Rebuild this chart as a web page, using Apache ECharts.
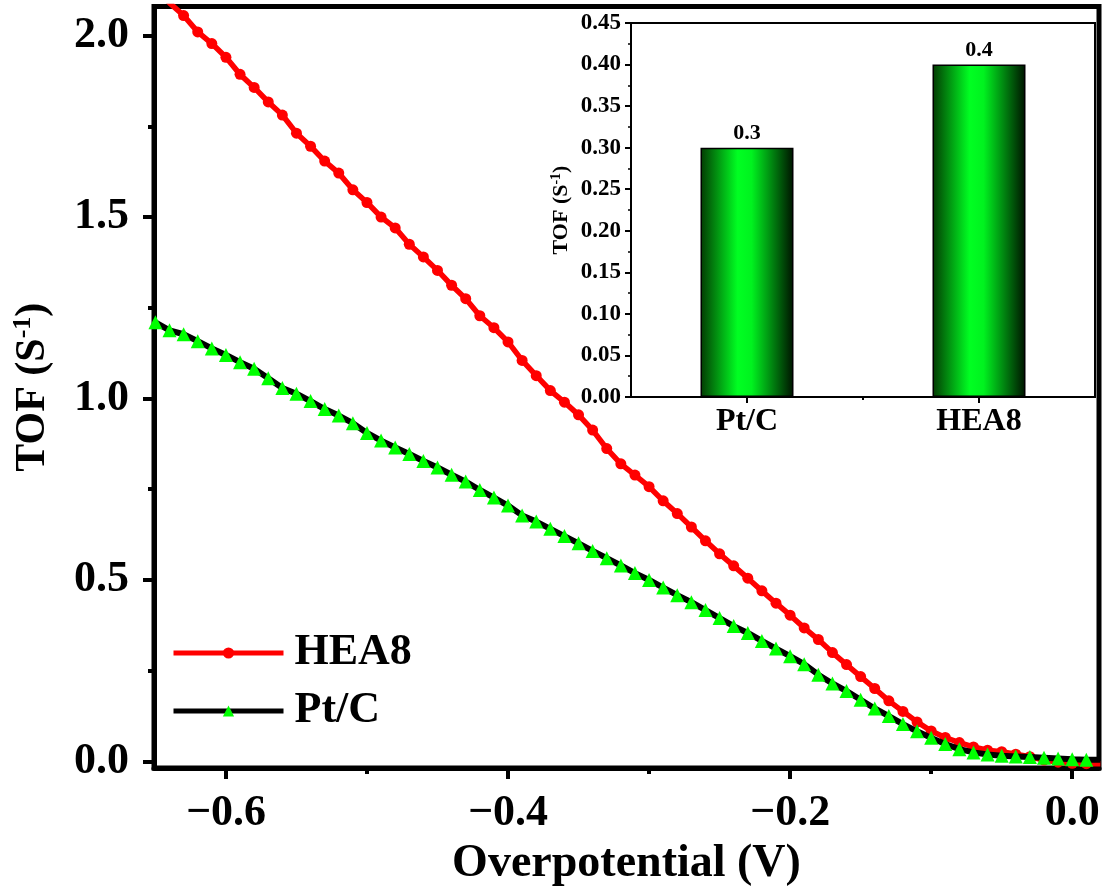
<!DOCTYPE html>
<html>
<head>
<meta charset="utf-8">
<title>TOF vs Overpotential</title>
<script src="https://cdn.jsdelivr.net/npm/echarts@6/dist/echarts.min.js"></script>
<style>
  html, body { margin: 0; padding: 0; background: #fff; }
  #chart { width: 1104px; height: 893px; }
</style>
</head>
<body>
<div id="chart"></div>
<script>
// Overpotential sweep (V)
const voltage = [
  -0.65, -0.64, -0.63, -0.62, -0.61, -0.60, -0.59, -0.58, -0.57, -0.56,
  -0.55, -0.54, -0.53, -0.52, -0.51, -0.50, -0.49, -0.48, -0.47, -0.46,
  -0.45, -0.44, -0.43, -0.42, -0.41, -0.40, -0.39, -0.38, -0.37, -0.36,
  -0.35, -0.34, -0.33, -0.32, -0.31, -0.30, -0.29, -0.28, -0.27, -0.26,
  -0.25, -0.24, -0.23, -0.22, -0.21, -0.20, -0.19, -0.18, -0.17, -0.16,
  -0.15, -0.14, -0.13, -0.12, -0.11, -0.10, -0.09, -0.08, -0.07, -0.06,
  -0.05, -0.04, -0.03, -0.02, -0.01, 0.00, 0.01, 0.02
];

// TOF (s^-1) of HEA8
const tofHEA8 = [
  2.13, 2.09, 2.055, 2.01, 1.978, 1.94, 1.893, 1.857, 1.817, 1.781,
  1.731, 1.695, 1.654, 1.621, 1.575, 1.54, 1.50, 1.47, 1.425, 1.39,
  1.353, 1.312, 1.275, 1.228, 1.195, 1.156, 1.105, 1.063, 1.022, 0.99,
  0.955, 0.913, 0.862, 0.82, 0.789, 0.757, 0.718, 0.683, 0.646, 0.608,
  0.572, 0.539, 0.505, 0.47, 0.436, 0.403, 0.368, 0.336, 0.30, 0.267,
  0.234, 0.201, 0.167, 0.138, 0.109, 0.084, 0.066, 0.052, 0.04, 0.031,
  0.027, 0.02, 0.013, 0.004, -0.002, -0.005, -0.006, -0.006
];

// TOF (s^-1) of Pt/C
const tofPtC = [
  1.21, 1.188, 1.177, 1.158, 1.138, 1.12, 1.10, 1.082, 1.056, 1.029,
  1.013, 0.993, 0.971, 0.953, 0.932, 0.905, 0.884, 0.865, 0.847, 0.828,
  0.81, 0.79, 0.771, 0.748, 0.727, 0.705, 0.678, 0.661, 0.641, 0.621,
  0.601, 0.58, 0.56, 0.54, 0.519, 0.50, 0.479, 0.458, 0.439, 0.417,
  0.395, 0.373, 0.354, 0.332, 0.311, 0.29, 0.268, 0.239, 0.215, 0.194,
  0.17, 0.146, 0.125, 0.103, 0.083, 0.065, 0.048, 0.034, 0.025, 0.019,
  0.016, 0.014, 0.012, 0.01, 0.008, 0.006, 0.005, 0.005
];

// Inset: TOF at a fixed overpotential
const insetCategories = ['Pt/C', 'HEA8'];
const insetTOF = [0.3, 0.4];

// Axis ticks
const xMajorTicks = [-0.6, -0.4, -0.2, 0.0];
const xMinorTicks = [-0.5, -0.3, -0.1];
const yMajorTicks = [0.0, 0.5, 1.0, 1.5, 2.0];
const yMinorTicks = [0.25, 0.75, 1.25, 1.75];

const FONT = '"Liberation Serif", "Times New Roman", serif';
const BLACK = '#000';

const chart = echarts.init(document.getElementById('chart'), null, { renderer: 'canvas' });

const signed = v => (v < 0 ? '\u2212' : '') + Math.abs(v).toFixed(1);

const barGradient = {
  type: 'linear', x: 0, y: 0, x2: 1, y2: 0,
  colorStops: [
    { offset: 0, color: '#033a03' },
    { offset: 0.4, color: '#00ff22' },
    { offset: 0.55, color: '#00f21f' },
    { offset: 1, color: '#001200' }
  ]
};

const option = {
  animation: false,
  backgroundColor: '#fff',
  grid: [
    { left: 154, right: 5, top: 6.5, bottom: 125, show: true, borderColor: BLACK, borderWidth: 5, backgroundColor: 'transparent' },
    { left: 631, right: 9, top: 23, bottom: 496, show: true, borderColor: BLACK, borderWidth: 2, backgroundColor: '#fff', z: 5 }
  ],
  legend: {
    orient: 'vertical',
    left: 166,
    top: 626,
    itemWidth: 110,
    itemHeight: 14,
    itemGap: 14,
    data: ['HEA8', 'Pt/C'],
    lineStyle: { width: 5 },
    textStyle: { fontFamily: FONT, fontWeight: 'bold', fontSize: 44, color: BLACK, padding: [0, 0, 0, 6] }
  },
  xAxis: [
    {
      type: 'value', gridIndex: 0, position: 'bottom',
      min: -0.651, max: 0.019,
      name: 'Overpotential (V)', nameLocation: 'middle', nameGap: 68,
      nameTextStyle: { fontFamily: FONT, fontWeight: 'bold', fontSize: 46, color: BLACK },
      axisLine: { onZero: false, lineStyle: { color: BLACK, width: 5 } },
      axisTick: { show: true, length: 11, customValues: xMajorTicks, lineStyle: { color: BLACK, width: 4 } },
      axisLabel: { customValues: xMajorTicks, formatter: signed, margin: 24, fontFamily: FONT, fontWeight: 'bold', fontSize: 44, color: BLACK },
      splitLine: { show: false }
    },
    {
      type: 'value', gridIndex: 0, position: 'bottom',
      min: -0.651, max: 0.019,
      axisLine: { show: false, onZero: false },
      axisTick: { show: true, length: 6, customValues: xMinorTicks, lineStyle: { color: BLACK, width: 4 } },
      axisLabel: { show: false },
      splitLine: { show: false }
    },
    {
      type: 'value', gridIndex: 1, position: 'bottom',
      min: -0.5, max: 1.5,
      axisLine: { onZero: false, lineStyle: { color: BLACK, width: 2 } },
      axisTick: { show: true, length: 6, customValues: [0, 1], lineStyle: { color: BLACK, width: 2 } },
      axisLabel: {
        customValues: [0, 1],
        formatter: v => insetCategories[Math.round(v)] || '',
        margin: 9, fontFamily: FONT, fontWeight: 'bold', fontSize: 32, color: BLACK
      },
      splitLine: { show: false }
    },
    {
      type: 'value', gridIndex: 1, position: 'bottom',
      min: -0.5, max: 1.5,
      axisLine: { show: false, onZero: false },
      axisTick: { show: true, length: 3, customValues: [0.5], lineStyle: { color: BLACK, width: 2 } },
      axisLabel: { show: false },
      splitLine: { show: false }
    }
  ],
  yAxis: [
    {
      type: 'value', gridIndex: 0, position: 'left',
      min: -0.018, max: 2.08,
      name: '{t|TOF (S}{s|-1}{t|)}', nameLocation: 'middle', nameGap: 98, nameRotate: 90,
      nameTextStyle: {
        rich: {
          t: { fontFamily: FONT, fontWeight: 'bold', fontSize: 42, color: BLACK },
          s: { fontFamily: FONT, fontWeight: 'bold', fontSize: 26, color: BLACK, padding: [0, 0, 20, 0] }
        }
      },
      axisLine: { onZero: false, lineStyle: { color: BLACK, width: 5 } },
      axisTick: { show: true, length: 11, customValues: yMajorTicks, lineStyle: { color: BLACK, width: 4 } },
      axisLabel: { customValues: yMajorTicks, formatter: v => v.toFixed(1), margin: 25, fontFamily: FONT, fontWeight: 'bold', fontSize: 44, color: BLACK },
      splitLine: { show: false }
    },
    {
      type: 'value', gridIndex: 0, position: 'left',
      min: -0.018, max: 2.08,
      axisLine: { show: false, onZero: false },
      axisTick: { show: true, length: 6, customValues: yMinorTicks, lineStyle: { color: BLACK, width: 4 } },
      axisLabel: { show: false },
      splitLine: { show: false }
    },
    {
      type: 'value', gridIndex: 1, position: 'left',
      min: 0, max: 0.45, interval: 0.05,
      name: '{t|TOF (S}{s|-1}{t|)}', nameLocation: 'middle', nameGap: 58, nameRotate: 90,
      nameTextStyle: {
        rich: {
          t: { fontFamily: FONT, fontWeight: 'bold', fontSize: 22, color: BLACK },
          s: { fontFamily: FONT, fontWeight: 'bold', fontSize: 14, color: BLACK, padding: [0, 0, 10, 0] }
        }
      },
      axisLine: { onZero: false, lineStyle: { color: BLACK, width: 2 } },
      axisTick: { show: true, length: 6, lineStyle: { color: BLACK, width: 2 } },
      minorTick: { show: true, splitNumber: 2, length: 3, lineStyle: { color: BLACK, width: 1.5 } },
      axisLabel: { formatter: v => v.toFixed(2), margin: 10, fontFamily: FONT, fontWeight: 'bold', fontSize: 23, color: BLACK },
      splitLine: { show: false }
    }
  ],
  series: [
    {
      name: 'HEA8', type: 'line', xAxisIndex: 0, yAxisIndex: 0,
      data: voltage.map((v, i) => [v, tofHEA8[i]]),
      symbol: 'circle', symbolSize: 11, showAllSymbol: true,
      itemStyle: { color: '#ff0000' },
      lineStyle: { color: '#ff0000', width: 5.5 },
      z: 3
    },
    {
      name: 'Pt/C', type: 'line', xAxisIndex: 0, yAxisIndex: 0,
      data: voltage.map((v, i) => [v, tofPtC[i]]),
      symbol: 'triangle', symbolSize: 14, showAllSymbol: true,
      itemStyle: { color: '#00ff00' },
      lineStyle: { color: BLACK, width: 6 },
      z: 4
    },
    {
      name: 'TOF', type: 'bar', xAxisIndex: 2, yAxisIndex: 2,
      data: insetTOF.map((t, i) => [i, t]),
      barWidth: 93,
      itemStyle: { color: barGradient, borderColor: BLACK, borderWidth: 1.5 },
      label: {
        show: true, position: 'top', distance: 3,
        formatter: p => String(p.value[1]),
        fontFamily: FONT, fontWeight: 'bold', fontSize: 22, color: BLACK
      },
      z: 6
    }
  ]
};

chart.setOption(option);
</script>
</body>
</html>
